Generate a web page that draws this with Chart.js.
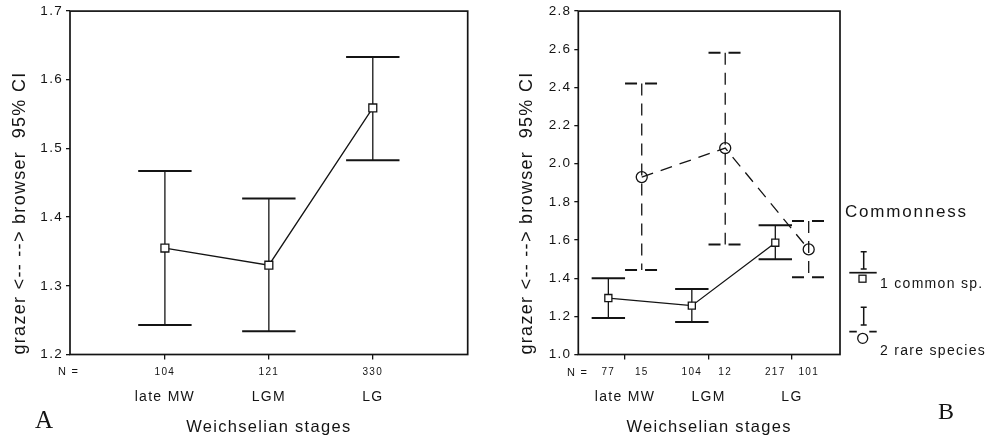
<!DOCTYPE html>
<html>
<head>
<meta charset="utf-8">
<script src="https://cdn.jsdelivr.net/npm/chart.js@4.4.1/dist/chart.umd.min.js"></script>
<style>
    body { margin: 0; background: #fff; }
    #page { position: relative; width: 991px; height: 443px; overflow: hidden; font-family: "Liberation Sans", Arial, sans-serif; color: #141414; }
    #page canvas { position: absolute; top: 0; }
    .lbl { position: absolute; white-space: nowrap; letter-spacing: 1.3px; }
    .serif { font-family: "Liberation Serif", "Times New Roman", serif; letter-spacing: 0; }
</style>
</head>
<body>
<div id="page">
    <canvas id="chartA" width="480" height="443" style="left:0px"></canvas>
    <canvas id="chartB" width="491" height="443" style="left:500px"></canvas>

    <div class="lbl" style="left:58px; top:366px; font-size:11px; line-height:11px;">N =</div>
    <div class="lbl" style="left:567px; top:367px; font-size:11px; line-height:11px;">N =</div>
    <div class="lbl serif" style="left:35px; top:407px; font-size:25px; line-height:25px;">A</div>
    <div class="lbl serif" style="left:938px; top:399px; font-size:24px; line-height:24px;">B</div>

    <div class="lbl" style="left:845px; top:203px; font-size:17px; line-height:17px; letter-spacing:1.8px;">Commonness</div>
    <div class="lbl" style="left:880px; top:276px; font-size:14px; line-height:14px;">1 common sp.</div>
    <div class="lbl" style="left:880px; top:343px; font-size:14px; line-height:14px;">2 rare species</div>
</div>

<script>
const stages = ['late MW', 'LGM', 'LG'];

// panel A - all species
const yTicksA = [1.2, 1.3, 1.4, 1.5, 1.6, 1.7];
const meanA = [1.355, 1.330, 1.559];
const lowA = [1.243, 1.234, 1.483];
const highA = [1.467, 1.427, 1.633];
const countA = [104, 121, 330];

// panel B - split by commonness
const yTicksB = [1.0, 1.2, 1.4, 1.6, 1.8, 2.0, 2.2, 2.4, 2.6, 2.8];
const meanCommon = [1.296, 1.256, 1.586];
const lowCommon = [1.191, 1.171, 1.499];
const highCommon = [1.400, 1.343, 1.678];
const countCommon = [77, 104, 217];
const meanRare = [1.930, 2.082, 1.551];
const lowRare = [1.443, 1.577, 1.405];
const highRare = [2.420, 2.582, 1.700];
const countRare = [15, 12, 101];

const INK = '#141414';
const FONT = '"Liberation Sans", Arial, sans-serif';
const SHIFT = 0.2;          // side offset of the two groups in B
const DASH = [12, 8];

Chart.defaults.font.family = FONT;
Chart.defaults.color = INK;

function points(means, shift) {
    return means.map((m, i) => ({ x: i + 1 + shift, y: m }));
}

// wide lettering like the original
const spacing = {
    id: 'spacing',
    beforeUpdate(chart) { chart.ctx.letterSpacing = '1.3px'; },
    beforeDraw(chart) { chart.ctx.letterSpacing = '1.3px'; }
};

const errorBars = {
    id: 'errorBars',
    beforeDatasetsDraw(chart, args, opts) {
        const { ctx, scales: { x, y } } = chart;
        chart.data.datasets.forEach(ds => {
            if (!ds.errLow) return;
            ctx.save();
            ctx.strokeStyle = INK;
            ctx.setLineDash(ds.borderDash || []);
            ds.data.forEach((p, i) => {
                const px = x.getPixelForValue(p.x);
                const top = y.getPixelForValue(ds.errHigh[i]);
                const bot = y.getPixelForValue(ds.errLow[i]);
                ctx.lineWidth = 1.3;
                ctx.beginPath();
                ctx.moveTo(px, top);
                ctx.lineTo(px, bot);
                ctx.stroke();
                ctx.lineWidth = 2;
                ctx.beginPath();
                ctx.moveTo(px - opts.cap, top); ctx.lineTo(px + opts.cap, top);
                ctx.moveTo(px - opts.cap, bot); ctx.lineTo(px + opts.cap, bot);
                ctx.stroke();
            });
            ctx.restore();
        });
    }
};

const frame = {
    id: 'frame',
    afterDraw(chart) {
        const { ctx, chartArea: a } = chart;
        ctx.save();
        ctx.strokeStyle = INK;
        ctx.lineWidth = 1.7;
        ctx.strokeRect(a.left, a.top, a.right - a.left, a.bottom - a.top);
        ctx.restore();
    }
};

// legend symbols for panel B (text is in html)
const commonLegend = {
    id: 'commonLegend',
    afterDraw(chart) {
        const ctx = chart.ctx;
        ctx.save();
        ctx.strokeStyle = INK;
        ctx.lineWidth = 1.5;
        [[251.7, 269], [307.3, 325]].forEach(([t, b]) => {
            ctx.beginPath();
            ctx.moveTo(363.7, t); ctx.lineTo(363.7, b);
            ctx.moveTo(360.7, t); ctx.lineTo(366.7, t);
            ctx.moveTo(360.7, b); ctx.lineTo(366.7, b);
            ctx.stroke();
        });
        ctx.lineWidth = 1.7;
        ctx.beginPath();
        ctx.moveTo(349.3, 272.7); ctx.lineTo(376.7, 272.7);
        ctx.stroke();
        ctx.setLineDash([7.5, 12.5]);
        ctx.beginPath();
        ctx.moveTo(349.3, 331.7); ctx.lineTo(376.7, 331.7);
        ctx.stroke();
        ctx.setLineDash([]);
        ctx.lineWidth = 1.3;
        ctx.strokeRect(359, 275.2, 7, 7);
        ctx.beginPath();
        ctx.arc(362.7, 338.3, 5, 0, Math.PI * 2);
        ctx.stroke();
        ctx.restore();
    }
};

function yAxis(min, max, ticks, width, titlePad) {
    return {
        min, max,
        afterBuildTicks: a => { a.ticks = ticks.map(v => ({ value: v })); },
        afterFit: a => { a.width = width; },
        ticks: { callback: v => v.toFixed(1), font: { size: 13.5 }, color: INK, padding: 3 },
        grid: { drawOnChartArea: false, drawTicks: true, tickLength: 4, color: INK, lineWidth: 1.3 },
        border: { display: false },
        title: {
            display: true, text: 'grazer <-- --> browser  95% CI', align: 'start',
            font: { size: 18 }, color: INK, padding: { top: titlePad, bottom: 0 }
        }
    };
}

function xAxes(min, max, nPos, nLabels) {
    const marks = stages.map((s, i) => i + 1);
    return {
        x: {
            type: 'linear', position: 'bottom', min, max, bounds: 'data',
            afterBuildTicks: a => { a.ticks = marks.map(v => ({ value: v })); },
            afterFit: a => { a.height = 5; },
            ticks: { display: false },
            grid: { drawOnChartArea: false, drawTicks: true, tickLength: 5, color: INK, lineWidth: 1.3 },
            border: { display: false }
        },
        xN: {
            type: 'linear', position: 'bottom', min, max, bounds: 'data',
            afterBuildTicks: a => { a.ticks = nPos.map(v => ({ value: v })); },
            afterFit: a => { a.height = 26; },
            ticks: { callback: (v, i) => String(nLabels[i]), font: { size: 10 }, color: INK, padding: 6.5, autoSkip: false, maxRotation: 0 },
            grid: { display: false, drawTicks: false },
            border: { display: false }
        },
        xC: {
            type: 'linear', position: 'bottom', min, max, bounds: 'data',
            afterBuildTicks: a => { a.ticks = marks.map(v => ({ value: v })); },
            afterFit: a => { a.height = 57.5; },
            ticks: { callback: (v, i) => stages[i], font: { size: 14 }, color: INK, padding: 3.6, autoSkip: false, maxRotation: 0 },
            grid: { display: false, drawTicks: false },
            border: { display: false },
            title: { display: true, text: 'Weichselian stages', font: { size: 16.5 }, color: INK, padding: { top: 0, bottom: 5.6 } }
        }
    };
}

new Chart(document.getElementById('chartA'), {
    type: 'line',
    data: {
        datasets: [{
            data: points(meanA, 0),
            errLow: lowA,
            errHigh: highA,
            borderColor: INK,
            borderWidth: 1.3,
            pointStyle: 'rect',
            pointRadius: 5.6,
            pointBorderWidth: 1.3,
            pointBorderColor: INK,
            pointBackgroundColor: '#fff'
        }]
    },
    options: {
        responsive: false,
        animation: false,
        layout: { padding: { top: 10, right: 12.3, bottom: 0, left: 0 } },
        plugins: { legend: { display: false }, tooltip: { enabled: false }, errorBars: { cap: 26.7 } },
        scales: {
            ...xAxes(0.087, 3.913, stages.map((s, i) => i + 1), countA),
            y: yAxis(1.2, 1.7, yTicksA, 70, 9.2)
        }
    },
    plugins: [spacing, errorBars, frame]
});

const nPosB = stages.flatMap((s, i) => [i + 1 - SHIFT, i + 1 + SHIFT]);
const nLabB = stages.flatMap((s, i) => [countCommon[i], countRare[i]]);

new Chart(document.getElementById('chartB'), {
    type: 'line',
    data: {
        datasets: [{
            label: '1 common sp.',
            data: points(meanCommon, -SHIFT),
            errLow: lowCommon,
            errHigh: highCommon,
            borderColor: INK,
            borderWidth: 1.3,
            pointStyle: 'rect',
            pointRadius: 5,
            pointBorderWidth: 1.3,
            pointBorderColor: INK,
            pointBackgroundColor: '#fff'
        }, {
            label: '2 rare species',
            data: points(meanRare, SHIFT),
            errLow: lowRare,
            errHigh: highRare,
            borderColor: INK,
            borderWidth: 1.3,
            borderDash: DASH,
            pointStyle: 'circle',
            pointRadius: 5.5,
            pointBorderWidth: 1.3,
            pointBorderColor: INK,
            pointBackgroundColor: 'rgba(0,0,0,0)'
        }]
    },
    options: {
        responsive: false,
        animation: false,
        layout: { padding: { top: 10, right: 151, bottom: 0, left: 0 } },
        plugins: { legend: { display: false }, tooltip: { enabled: false }, errorBars: { cap: 16.7 } },
        scales: {
            ...xAxes(0.44, 3.575, nPosB, nLabB),
            y: yAxis(1.0, 2.8, yTicksB, 78.3, 15.9)
        }
    },
    plugins: [spacing, errorBars, frame, commonLegend]
});
</script>
</body>
</html>
